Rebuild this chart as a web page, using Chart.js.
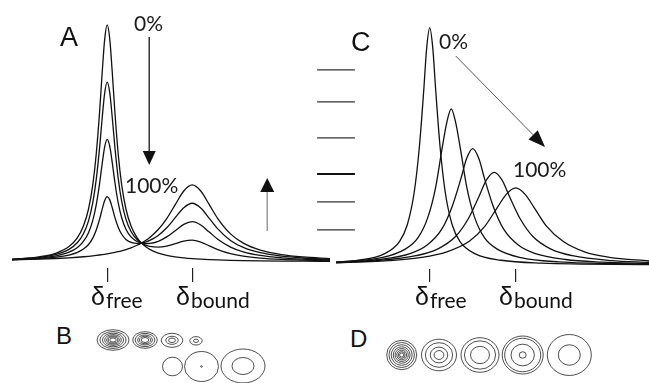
<!DOCTYPE html>
<html lang="en">
<head>
  <meta charset="UTF-8" />
  <title>Slow and fast exchange spectra</title>
  <script src="https://cdn.jsdelivr.net/npm/chart.js"></script>
  <style>
    html, body { margin: 0; padding: 0; background: #fff; }
    #fig { position: relative; width: 649px; height: 383px; overflow: hidden; color: #111; font-family: "Liberation Sans", Arial, sans-serif; }
    #fig canvas { position: absolute; }
    .lbl { position: absolute; line-height: 1; white-space: nowrap; }
    .panel { font-size: 27px; }
    .panel.low { font-size: 24px; }
    .pct { font-family: Lato, "Open Sans", sans-serif; font-weight: 400; font-size: 21px; color: #1a1a1a; }
    .delta { font-size: 25px; }
    .delta span { font-family: Lato, "Open Sans", sans-serif; font-weight: 400; font-size: 21px; vertical-align: -3px; margin-left: 1px; }
  </style>
</head>
<body>
<div id="fig">
  <canvas id="chartA" width="335" height="300" style="left:0;top:0"></canvas>
  <canvas id="chartC" width="339" height="300" style="left:310px;top:0"></canvas>
  <canvas id="chartB" width="185" height="63" style="left:85px;top:320px"></canvas>
  <canvas id="chartD" width="230" height="63" style="left:370px;top:320px"></canvas>

  <!-- panel letters -->
  <div class="lbl panel" style="left:60px;top:24px">A</div>
  <div class="lbl panel" style="left:351px;top:29px">C</div>
  <div class="lbl panel low" style="left:56px;top:324px">B</div>
  <div class="lbl panel low" style="left:350px;top:327px">D</div>

  <!-- titration labels -->
  <div class="lbl pct" style="left:134px;top:12px">0%</div>
  <div class="lbl pct" style="left:125px;top:174px">100%</div>
  <div class="lbl pct" style="left:439px;top:30px">0%</div>
  <div class="lbl pct" style="left:513px;top:158px">100%</div>

  <!-- chemical shift labels -->
  <div class="lbl delta" style="left:91px;top:284px">δ<span>free</span></div>
  <div class="lbl delta" style="left:176px;top:284px">δ<span>bound</span></div>
  <div class="lbl delta" style="left:415px;top:284px">δ<span>free</span></div>
  <div class="lbl delta" style="left:499px;top:284px">δ<span>bound</span></div>
</div>

<script>
  // shift axis: 0 = free, 100 = bound; intensity in % of the free peak
  const shiftTicks = [0, 100];

  // A: slow exchange, one shared shift grid for all titration points
  const shiftA = [-112, -80, -60, -45, -35, -28, -22, -17, -13, -9, -6, -3, 0, 3, 6, 9, 13, 17, 22, 28, 35, 40, 45, 50, 60, 70, 80, 90, 100, 110, 120, 130, 145, 160, 180, 205, 230, 262];
  const specA0 = [1.10, 2.13, 3.72, 6.43, 10.2, 15.1, 22.3, 32.5, 45.2, 63.2, 79.5, 93.9, 100, 93.9, 79.5, 63.2, 45.2, 32.5, 22.3, 15.1, 10.2, 8.0, 6.43, 5.27, 3.72, 2.76, 2.13, 1.69, 1.37, 1.14, 0.96, 0.82, 0.66, 0.54, 0.43, 0.33, 0.26, 0.20];
  const specA25 = [1.03, 1.88, 3.14, 5.24, 8.14, 11.86, 17.31, 25.01, 34.58, 48.12, 60.38, 71.23, 75.84, 71.32, 60.57, 48.40, 34.98, 25.55, 18.03, 12.81, 9.40, 7.98, 7.07, 6.52, 6.20, 6.64, 7.64, 8.75, 9.16, 8.33, 6.76, 5.18, 3.45, 2.38, 1.56, 1.02, 0.72, 0.49];
  const specA50 = [0.96, 1.63, 2.56, 4.06, 6.07, 8.62, 12.32, 17.52, 23.95, 33.04, 41.27, 48.55, 51.69, 48.73, 41.63, 33.59, 24.75, 18.59, 13.75, 10.52, 8.60, 7.96, 7.71, 7.78, 8.68, 10.52, 13.14, 15.80, 16.94, 15.53, 12.56, 9.55, 6.24, 4.23, 2.70, 1.71, 1.17, 0.79];
  const specA75 = [0.88, 1.37, 1.98, 2.88, 4.01, 5.38, 7.33, 10.02, 13.33, 17.96, 22.15, 25.87, 27.53, 26.15, 22.70, 18.79, 14.53, 11.63, 9.47, 8.22, 7.79, 7.93, 8.34, 9.03, 11.15, 14.39, 18.65, 22.85, 24.72, 22.72, 18.35, 13.91, 9.02, 6.07, 3.84, 2.39, 1.63, 1.08];
  const specA100 = [0.81, 1.12, 1.40, 1.69, 1.94, 2.14, 2.34, 2.53, 2.70, 2.88, 3.03, 3.19, 3.37, 3.56, 3.76, 3.98, 4.30, 4.67, 5.19, 5.93, 6.99, 7.91, 8.98, 10.28, 13.63, 18.27, 24.15, 29.91, 32.5, 29.91, 24.15, 18.27, 11.81, 7.91, 4.97, 3.08, 2.08, 1.37];

  // C: fast exchange, each titration point read on its own shift grid
  const shiftC0 = [-109, -83, -53, -35, -26, -18, -12, -7, -3.5, 0, 3.5, 7, 12, 18, 26, 35, 53, 83, 130, 255];
  const specC0 = [1.16, 2.0, 4.7, 10, 17.1, 30.8, 50, 73.5, 91.7, 100, 91.7, 73.5, 50, 30.8, 17.1, 10, 4.7, 2.0, 0.82, 0.21];
  const shiftC25 = [-109, -56, -29, -14, -2, 7, 14, 20, 25, 30, 36, 43, 52, 64, 79, 106, 150, 255];
  const specC25 = [1.15, 3.1, 6.6, 11.3, 20.3, 33.0, 48.4, 60.4, 65.9, 60.4, 48.4, 33.0, 20.3, 11.3, 6.6, 3.1, 1.32, 0.40];
  const shiftC50 = [-109, -58, -22, -3, 14, 26, 36, 43, 50, 57, 64, 74, 86, 103, 122, 158, 200, 255];
  const specC50 = [1.10, 2.31, 4.91, 8.40, 15.1, 24.6, 36.1, 45.0, 49.1, 45.0, 36.1, 24.6, 15.1, 8.40, 4.91, 2.31, 1.23, 0.67];
  const shiftC75 = [-109, -61, -16, 9, 30, 45, 57, 66, 75, 84, 93, 105, 120, 141, 166, 211, 255];
  const specC75 = [1.03, 1.84, 3.91, 6.69, 12.0, 19.6, 28.7, 35.9, 39.1, 35.9, 28.7, 19.6, 12.0, 6.69, 3.91, 1.84, 1.07];
  const shiftC100 = [-109, -63, -9, 20, 46, 64, 78, 89, 100, 111, 122, 136, 155, 180, 209, 255];
  const specC100 = [0.95, 1.53, 3.25, 5.56, 10.0, 16.3, 23.9, 29.8, 32.5, 29.8, 23.9, 16.3, 10.0, 5.56, 3.25, 1.69];

  // contour levels shown as short bars between the panels (intensity units of C)
  const contourLevels = [82.3, 68.8, 53.6, 38.4, 26.6, 14.8];

  // B: 2D peaks in slow exchange (top row free, bottom row bound)
  const peakBx = [28, 60, 87, 111, 87.5, 116.5, 158];
  const peakBy = [43, 43, 42.7, 42.2, 16.5, 16.5, 17];
  const peakBwx = [16, 12.3, 10.8, 6.2, 10, 17, 22];
  const peakBwy = [10.3, 8.3, 7, 4.2, 9.3, 15, 17];
  const ringsB = [[1, .82, .66, .52, .4, .3, .2], [1, .8, .6, .45, .3], [1, .58, .32], [1, .4], [1], [1, .05], [1, .5]];

  // D: 2D peaks in fast exchange
  const peakDx = [31.7, 69, 110, 152.7, 199.3];
  const peakDy = [28, 28, 28, 28, 28];
  const peakDwx = [15, 17.5, 19, 20.5, 22];
  const peakDwy = [14.7, 15.8, 17.3, 19, 20.5];
  const ringsD = [[1, .85, .7, .56, .44, .33, .23, .14], [1, .78, .5, .28], [1, .82, .5], [1, .88, .57, .17], [1, .5]];

  const toXY = (xs, ys) => xs.map((x, i) => ({ x: x, y: ys[i] }));
  const curve = (data) => ({
    data: data,
    borderColor: '#111',
    borderWidth: 1.3,
    pointRadius: 0,
    fill: false,
    cubicInterpolationMode: 'monotone'
  });

  // arrows given in data units, converted through the chart scales
  function arrowPlugin(list) {
    return {
      id: 'arrows',
      afterDatasetsDraw(chart) {
        const { ctx, scales: { x, y } } = chart;
        list.forEach(a => {
          const x0 = x.getPixelForValue(a.from[0]), y0 = y.getPixelForValue(a.from[1]);
          const x1 = x.getPixelForValue(a.to[0]), y1 = y.getPixelForValue(a.to[1]);
          const ang = Math.atan2(y1 - y0, x1 - x0);
          const bx = x1 - a.headLen * Math.cos(ang), by = y1 - a.headLen * Math.sin(ang);
          const hw = a.headWidth / 2;
          ctx.save();
          ctx.strokeStyle = a.color;
          ctx.lineWidth = a.width;
          ctx.beginPath(); ctx.moveTo(x0, y0); ctx.lineTo(bx, by); ctx.stroke();
          ctx.fillStyle = '#111';
          ctx.beginPath();
          ctx.moveTo(x1, y1);
          ctx.lineTo(bx + hw * Math.sin(ang), by - hw * Math.cos(ang));
          ctx.lineTo(bx - hw * Math.sin(ang), by + hw * Math.cos(ang));
          ctx.closePath(); ctx.fill();
          ctx.restore();
        });
      }
    };
  }

  // contour rings around each peak, radii in data units
  const contourPlugin = {
    id: 'contours',
    afterDatasetsDraw(chart) {
      const { ctx, scales: { x, y } } = chart;
      chart.data.datasets.forEach((ds, di) => {
        chart.getDatasetMeta(di).data.forEach((pt, i) => {
          const p = ds.data[i];
          const rx = Math.abs(x.getPixelForValue(p.x + p.wx) - pt.x);
          const ry = Math.abs(y.getPixelForValue(p.y + p.wy) - pt.y);
          ctx.save();
          ctx.strokeStyle = '#222';
          ctx.lineWidth = 0.8;
          p.rings.forEach(f => {
            ctx.beginPath();
            ctx.ellipse(pt.x, pt.y, Math.max(rx * f, 0.6), Math.max(ry * f, 0.6), 0, 0, Math.PI * 2);
            ctx.stroke();
          });
          ctx.restore();
        });
      });
    }
  };

  const baseOpts = {
    responsive: false,
    animation: false,
    events: [],
    plugins: { legend: { display: false }, tooltip: { enabled: false } }
  };

  function spectrumScales(xmin, xmax, ymin, ymax, tickLen) {
    return {
      x: {
        type: 'linear', min: xmin, max: xmax,
        afterBuildTicks: axis => { axis.ticks = shiftTicks.map(v => ({ value: v })); },
        ticks: { display: false },
        grid: { drawOnChartArea: false, tickLength: tickLen, color: '#222', lineWidth: 1.2 },
        border: { display: false }
      },
      y: { type: 'linear', display: false, min: ymin, max: ymax }
    };
  }

  // panel A
  new Chart(document.getElementById('chartA'), {
    type: 'line',
    data: {
      datasets: [specA0, specA25, specA50, specA75, specA100].map(s => curve(toXY(shiftA, s)))
    },
    options: Object.assign({}, baseOpts, {
      layout: { padding: { left: 12, right: 5, top: 0, bottom: 18 } },
      scales: spectrumScales(-112, 262, -2.6, 110.5, 14)
    }),
    plugins: [arrowPlugin([
      { from: [49.4, 94.9], to: [49.4, 40.9], color: '#333', width: 1.5, headLen: 14, headWidth: 13 },
      { from: [188.2, 13.0], to: [188.2, 35.4], color: '#9a9a9a', width: 1.5, headLen: 14, headWidth: 14 }
    ])]
  });

  // panel C
  const levelSets = contourLevels.map((lv, i) => ({
    data: [{ x: -131, y: lv }, { x: -87, y: lv }],
    borderColor: i === 3 ? '#111' : '#333',
    borderWidth: i === 3 ? 2.2 : 1.3,
    pointRadius: 0,
    clip: false
  }));
  new Chart(document.getElementById('chartC'), {
    type: 'line',
    data: {
      datasets: [
        curve(toXY(shiftC0, specC0)),
        curve(toXY(shiftC25, specC25)),
        curve(toXY(shiftC50, specC50)),
        curve(toXY(shiftC75, specC75)),
        curve(toXY(shiftC100, specC100))
      ].concat(levelSets)
    },
    options: Object.assign({}, baseOpts, {
      layout: { padding: { left: 26, right: 0, top: 0, bottom: 18 } },
      scales: spectrumScales(-109, 255, -1.69, 111.8, 13)
    }),
    plugins: [arrowPlugin([
      { from: [30.2, 88.2], to: [134.1, 49.8], color: '#555', width: 1, headLen: 17, headWidth: 13 }
    ])]
  });

  // panels B and D
  function contourChart(id, xs, ys, wx, wy, rings, w, h) {
    const pts = xs.map((x, i) => ({ x: x, y: ys[i], wx: wx[i], wy: wy[i], rings: rings[i] }));
    return new Chart(document.getElementById(id), {
      type: 'scatter',
      data: { datasets: [{ data: pts, pointRadius: 0 }] },
      options: Object.assign({}, baseOpts, {
        layout: { padding: 0 },
        scales: {
          x: { type: 'linear', display: false, min: 0, max: w },
          y: { type: 'linear', display: false, min: 0, max: h }
        }
      }),
      plugins: [contourPlugin]
    });
  }
  contourChart('chartB', peakBx, peakBy, peakBwx, peakBwy, ringsB, 185, 63);
  contourChart('chartD', peakDx, peakDy, peakDwx, peakDwy, ringsD, 230, 63);
</script>
</body>
</html>
